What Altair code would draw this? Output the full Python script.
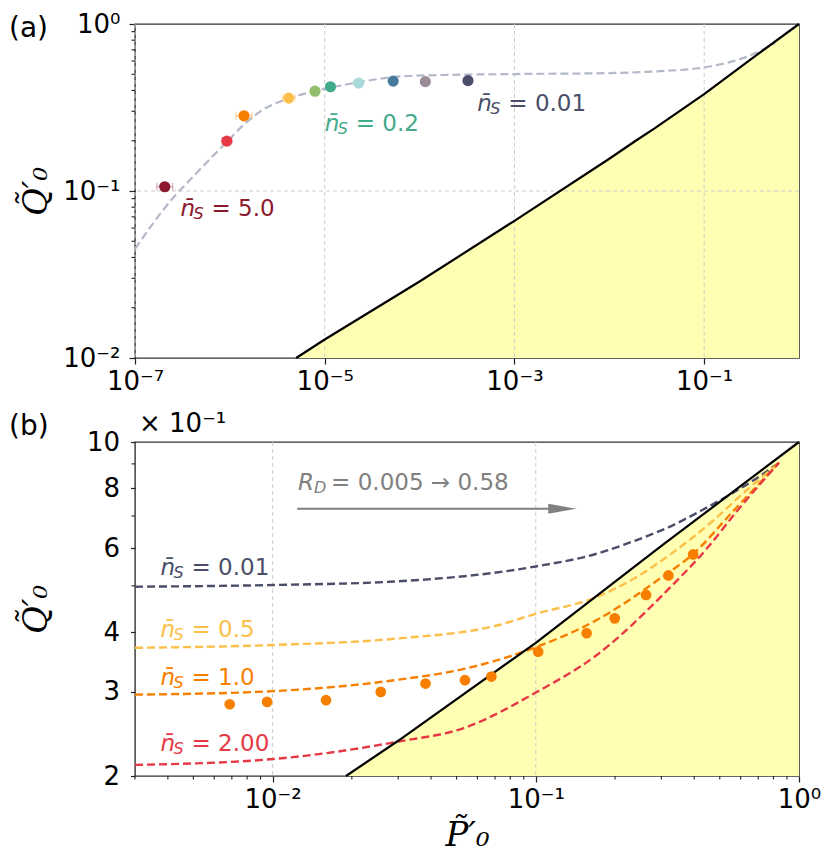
import altair as alt
import pandas as pd

# ---------------- panel (a) data ----------------
a_nS = [5.0, 2.0, 1.0, 0.5, 0.3, 0.2, 0.1, 0.05, 0.02, 0.01]
a_P = [2.06e-7, 9.3e-7, 1.41e-6, 4.17e-6, 7.9e-6, 1.15e-5, 2.28e-5, 5.27e-5, 1.15e-4, 3.24e-4]
a_Q = [0.106, 0.199, 0.282, 0.360, 0.396, 0.421, 0.443, 0.455, 0.452, 0.458]
a_Plo = [1.70e-7, 8.25e-7, 1.16e-6, 3.55e-6, 7.6e-6, 1.11e-5, 2.2e-5, 5.1e-5, 1.11e-4, 3.13e-4]
a_Phi = [2.50e-7, 1.05e-6, 1.71e-6, 4.90e-6, 8.2e-6, 1.19e-5, 2.36e-5, 5.45e-5, 1.19e-4, 3.35e-4]
a_colors = ['#8B1A2E', '#E63946', '#F77F00', '#FCBF49', '#90BE6D', '#43AA8B',
            '#A8DADC', '#457B9D', '#9A8C98', '#4A4E69']

a_curve_P = [1e-7, 2.37e-7, 4.51e-7, 9.3e-7, 1.41e-6, 2.2e-6, 4.17e-6, 7.9e-6, 1.79e-5,
             8.5e-5, 1e-3, 1e-2, 0.03, 0.1, 0.3, 0.56]
a_curve_Q = [0.045, 0.0873, 0.129, 0.197, 0.25, 0.305, 0.358, 0.396, 0.437,
             0.49, 0.5016, 0.508, 0.52, 0.55, 0.646, 0.77]

# boundary (shared by both panels)
bnd_P = [5.0e-6, 1e-5, 1e-4, 1e-3, 1e-2, 0.019, 0.03, 0.1, 0.3, 1.0]
bnd_Q = [0.01, 0.0129, 0.0287, 0.0663, 0.156, 0.2, 0.237, 0.38, 0.606, 1.0]

a_ann_P = [3.02e-7, 1.0e-5, 4.06e-4]
a_ann_Q = [0.071, 0.2296, 0.3027]
a_ann_val = ['5.0', '0.2', '0.01']
a_ann_col = ['#8B1A2E', '#43AA8B', '#4A4E69']

a_xticks = [1e-7, 1e-5, 1e-3, 1e-1]
a_xlabels = ['10\u207b\u2077', '10\u207b\u2075', '10\u207b\u00b3', '10\u207b\u00b9']
a_yticks = [0.01, 0.1, 1.0]
a_ylabels = ['10\u207b\u00b2', '10\u207b\u00b9', '10\u2070']
a_yminor = [0.02, 0.03, 0.04, 0.05, 0.06, 0.07, 0.08, 0.09,
            0.2, 0.3, 0.4, 0.5, 0.6, 0.7, 0.8, 0.9]
a_xgrid = [1e-7, 1e-5, 1e-3, 1e-1]
a_ygrid = [0.1]

# ---------------- panel (b) data ----------------
b_curves = {
    '0.01': ([0.003, 0.01, 0.0299, 0.1, 0.169, 0.239, 0.319, 0.426, 0.568, 0.655, 0.84],
             [0.498, 0.502, 0.511, 0.549, 0.583, 0.622, 0.663, 0.719, 0.786, 0.824, 0.905],
             '#4A4E69'),
    '0.5': ([0.003, 0.01, 0.0299, 0.0711, 0.1, 0.169, 0.239, 0.301, 0.465, 0.62, 0.84],
            [0.371, 0.376, 0.388, 0.413, 0.437, 0.473, 0.52, 0.565, 0.68, 0.785, 0.905],
            '#FCBF49'),
    '1.0': ([0.003, 0.01, 0.0299, 0.0533, 0.1, 0.169, 0.301, 0.396, 0.56, 0.84],
            [0.296, 0.301, 0.318, 0.335, 0.372, 0.423, 0.521, 0.583, 0.715, 0.905],
            '#F77F00'),
    '2.00': ([0.003, 0.01, 0.0299, 0.0533, 0.1, 0.169, 0.319, 0.445, 0.585, 0.84],
             [0.211, 0.217, 0.236, 0.252, 0.299, 0.357, 0.492, 0.597, 0.72, 0.905],
             '#E63946'),
}
b_P = [0.00687, 0.00953, 0.01596, 0.02576, 0.0381, 0.0538, 0.0678, 0.1021, 0.156,
       0.1995, 0.2624, 0.319, 0.396]
b_Q = [0.2826, 0.2859, 0.2882, 0.300, 0.3123, 0.3173, 0.323, 0.364, 0.398,
       0.4275, 0.4786, 0.5257, 0.5816]
b_color = '#F77F00'

b_ann_P = [0.00375, 0.00375, 0.00375, 0.00375]
b_ann_Q = [0.528, 0.391, 0.31, 0.226]
b_ann_val = ['0.01', '0.5', '1.0', '2.00']
b_ann_col = ['#4A4E69', '#FCBF49', '#F77F00', '#E63946']

rd_P, rd_Q, rd_text = 0.0125, 0.792, '= 0.005 \u2192 0.58'
arrow_P1, arrow_P2, arrow_head_P, arrow_Q = 0.0124, 0.113, 0.126, 0.725

b_xticks = [0.01, 0.1, 1.0]
b_xlabels = ['10\u207b\u00b2', '10\u207b\u00b9', '10\u2070']
b_xminor = [0.003, 0.004, 0.005, 0.006, 0.007, 0.008, 0.009,
            0.02, 0.03, 0.04, 0.05, 0.06, 0.07, 0.08, 0.09,
            0.2, 0.3, 0.4, 0.5, 0.6, 0.7, 0.8, 0.9]
b_yticks = [0.2, 0.3, 0.4, 0.6, 0.8, 1.0]
b_ylabels = ['2', '3', '4', '6', '8', '10']
b_yminor = [0.5, 0.7, 0.9]
b_xgrid = [0.01, 0.1]

# ---------------- helpers ----------------
W, H = 664, 334
FONT = 'DejaVu Sans'
TICKC = '#222222'
Q_TITLE = 'Q\u0303\u2032\u2080'
P_TITLE = 'P\u0303\u2032\u2080'


def label_expr(vals, labels):
    expr = "''"
    for v, l in reversed(list(zip(vals, labels))):
        expr = f"(abs(datum.value - {v}) < {v} * 1e-6) ? '{l}' : " + expr
    return expr


class Enc:
    """Same axis object on every layer so the shared axes merge without conflict."""

    def __init__(self, xs, ys, xaxis, yaxis):
        self.xs, self.ys, self.xaxis, self.yaxis = xs, ys, xaxis, yaxis

    def x(self, f):
        return alt.X(f, scale=self.xs, axis=self.xaxis)

    def y(self, f):
        return alt.Y(f, scale=self.ys, axis=self.yaxis)


def frame_layers(E, area_df, grid_x, grid_y, yminor, xminor):
    layers = [alt.Chart(area_df).mark_area(color='#FFFFB3', opacity=1).encode(
        x=E.x('P:Q'), y=E.y('Q:Q'), y2='base:Q')]
    gkw = dict(color='#cccccc', strokeDash=[4, 3], strokeWidth=1)
    if grid_x:
        layers.append(alt.Chart(pd.DataFrame({'v': grid_x})).mark_rule(**gkw).encode(
            x=E.x('v:Q')))
    if grid_y:
        layers.append(alt.Chart(pd.DataFrame({'v': grid_y})).mark_rule(**gkw).encode(
            y=E.y('v:Q')))
    if yminor:
        layers.append(alt.Chart(pd.DataFrame({'v': yminor})).mark_rule(
            color=TICKC, strokeWidth=1.1).encode(
            y=E.y('v:Q'), x=alt.value(0), x2=alt.value(-3.5)))
    if xminor:
        layers.append(alt.Chart(pd.DataFrame({'v': xminor})).mark_rule(
            color=TICKC, strokeWidth=1.1).encode(
            x=E.x('v:Q'), y=alt.value(H), y2=alt.value(H + 3.5)))
    return layers


def ann(E, df, sym, sub, dx_sub, dx_rest):
    base = alt.Chart(df).encode(x=E.x('P:Q'), y=E.y('Q:Q'),
                                color=alt.Color('c:N', scale=None))
    t1 = base.mark_text(align='left', baseline='alphabetic', font=FONT, fontSize=23,
                        fontStyle='italic', text=sym)
    t2 = base.mark_text(align='left', baseline='alphabetic', font=FONT, fontSize=16,
                        fontStyle='italic', dx=dx_sub, dy=3, text=sub)
    t3 = base.mark_text(align='left', baseline='alphabetic', font=FONT, fontSize=23,
                        dx=dx_rest).encode(text='t:N')
    return [t1, t2, t3]


AX_KW = dict(labelFont=FONT, labelFontSize=26, labelColor='black', tickColor=TICKC,
             tickWidth=1.2, domain=False, grid=False, labelFlush=False, labelOverlap=False,
             labelBound=False)
TITLE_KW = dict(titleFont='DejaVu Serif', titleFontStyle='italic', titleFontSize=34,
                titleFontWeight='normal', titleColor='black')

# ---------------- panel (a) ----------------
XA = alt.Scale(type='log', domain=[1e-7, 1.0])
YA = alt.Scale(type='log', domain=[0.01, 1.0])
xaxis_a = alt.Axis(values=a_xticks, labelExpr=label_expr(a_xticks, a_xlabels), title=None,
                   tickSize=6, labelPadding=4, **AX_KW)
yaxis_a = alt.Axis(values=a_yticks, labelExpr=label_expr(a_yticks, a_ylabels), title=Q_TITLE,
                   tickSize=6, labelPadding=9, minExtent=70, maxExtent=70, titlePadding=12,
                   **AX_KW, **TITLE_KW)
EA = Enc(XA, YA, xaxis_a, yaxis_a)

area_a = pd.DataFrame({'P': bnd_P, 'Q': bnd_Q, 'base': [0.01] * len(bnd_P)})
layers_a = frame_layers(EA, area_a, a_xgrid, a_ygrid, a_yminor, None)

curve_a = pd.DataFrame({'P': a_curve_P, 'Q': a_curve_Q})
layers_a.append(alt.Chart(curve_a).mark_line(color='#B4B9C9', strokeWidth=2.2,
                                             strokeDash=[8, 4], interpolate='monotone').encode(
    x=EA.x('P:Q'), y=EA.y('Q:Q')))
layers_a.append(alt.Chart(pd.DataFrame({'P': bnd_P, 'Q': bnd_Q})).mark_line(
    color='black', strokeWidth=2.2).encode(x=EA.x('P:Q'), y=EA.y('Q:Q')))

pts_a = pd.DataFrame({'P': a_P, 'Q': a_Q, 'lo': a_Plo, 'hi': a_Phi, 'c': a_colors, 'n': a_nS})
layers_a.append(alt.Chart(pts_a).mark_rule(strokeWidth=1.2, opacity=0.4).encode(
    x=EA.x('lo:Q'), x2='hi:Q', y=EA.y('Q:Q'), color=alt.Color('c:N', scale=None)))
caps_a = pd.DataFrame({'P': a_Plo + a_Phi, 'Q': a_Q + a_Q, 'c': a_colors + a_colors})
layers_a.append(alt.Chart(caps_a).mark_tick(orient='vertical', size=8, thickness=1,
                                            opacity=0.4).encode(
    x=EA.x('P:Q'), y=EA.y('Q:Q'), color=alt.Color('c:N', scale=None)))
layers_a.append(alt.Chart(pts_a).mark_circle(size=125, opacity=1).encode(
    x=EA.x('P:Q'), y=EA.y('Q:Q'), color=alt.Color('c:N', scale=None)))

ann_a = pd.DataFrame({'P': a_ann_P, 'Q': a_ann_Q, 't': ['= ' + v for v in a_ann_val],
                      'c': a_ann_col})
layers_a += ann(EA, ann_a, 'n\u0304', 'S', 13, 31)
layers_a.append(alt.Chart(pd.DataFrame({'t': ['(a)']})).mark_text(
    align='left', baseline='alphabetic', font=FONT, fontSize=28, color='black').encode(
    text='t:N', x=alt.value(-126), y=alt.value(13)))

panel_a = alt.layer(*layers_a).properties(width=W, height=H)

# ---------------- panel (b) ----------------
XB = alt.Scale(type='log', domain=[0.003, 1.0])
YB = alt.Scale(type='log', domain=[0.2, 1.0])
xaxis_b = alt.Axis(values=b_xticks, labelExpr=label_expr(b_xticks, b_xlabels), title=P_TITLE,
                   tickSize=6, labelPadding=4, titlePadding=6, **AX_KW, **TITLE_KW)
yaxis_b = alt.Axis(values=b_yticks, labelExpr=label_expr(b_yticks, b_ylabels), title=Q_TITLE,
                   tickSize=4.5, labelPadding=11, minExtent=70, maxExtent=70, titlePadding=12,
                   **AX_KW, **TITLE_KW)
EB = Enc(XB, YB, xaxis_b, yaxis_b)

bi = [i for i, p in enumerate(bnd_P) if p >= 0.019]
area_b = pd.DataFrame({'P': [bnd_P[i] for i in bi], 'Q': [bnd_Q[i] for i in bi],
                       'base': [0.2] * len(bi)})
layers_b = frame_layers(EB, area_b, b_xgrid, None, b_yminor, b_xminor)

for name, (ps, qs, col) in b_curves.items():
    layers_b.append(alt.Chart(pd.DataFrame({'P': ps, 'Q': qs})).mark_line(
        color=col, strokeWidth=2.4, strokeDash=[8, 4], interpolate='monotone').encode(
        x=EB.x('P:Q'), y=EB.y('Q:Q')))

layers_b.append(alt.Chart(area_b[['P', 'Q']]).mark_line(color='black', strokeWidth=2.2).encode(
    x=EB.x('P:Q'), y=EB.y('Q:Q')))

layers_b.append(alt.Chart(pd.DataFrame({'P': b_P, 'Q': b_Q})).mark_circle(
    size=115, opacity=1, color=b_color).encode(x=EB.x('P:Q'), y=EB.y('Q:Q')))

ann_b = pd.DataFrame({'P': b_ann_P, 'Q': b_ann_Q, 't': ['= ' + v for v in b_ann_val],
                      'c': b_ann_col})
layers_b += ann(EB, ann_b, 'n\u0304', 'S', 13, 31)
rd_df = pd.DataFrame({'P': [rd_P], 'Q': [rd_Q], 't': [rd_text], 'c': ['#808080']})
layers_b += ann(EB, rd_df, 'R', 'D', 16, 33)

arrow_df = pd.DataFrame({'P1': [arrow_P1], 'P2': [arrow_P2], 'Ph': [arrow_head_P],
                         'Q': [arrow_Q]})
layers_b.append(alt.Chart(arrow_df).mark_rule(color='#808080', strokeWidth=2).encode(
    x=EB.x('P1:Q'), x2='P2:Q', y=EB.y('Q:Q')))
layers_b.append(alt.Chart(arrow_df).mark_point(
    shape='M -1 -0.36 L 1 0 L -1 0.36 Z', size=784, filled=True, color='#808080',
    opacity=1, strokeWidth=0).encode(x=EB.x('Ph:Q'), y=EB.y('Q:Q')))

layers_b.append(alt.Chart(pd.DataFrame({'t': ['(b)']})).mark_text(
    align='left', baseline='alphabetic', font=FONT, fontSize=28, color='black').encode(
    text='t:N', x=alt.value(-126), y=alt.value(-7)))
layers_b.append(alt.Chart(pd.DataFrame({'t': ['\u00d7 10\u207b\u00b9']})).mark_text(
    align='left', baseline='alphabetic', font=FONT, fontSize=26, color='black').encode(
    text='t:N', x=alt.value(4), y=alt.value(-10)))

panel_b = alt.layer(*layers_b).properties(width=W, height=H)

chart = alt.vconcat(panel_a, panel_b, spacing=15).properties(
    background='white', padding={'top': 2, 'left': 0, 'right': 0, 'bottom': 0}
).configure_view(
    stroke='#333333', strokeWidth=1.4
)

chart.save('out.html', embed_options={'renderer': 'svg', 'actions': False})
